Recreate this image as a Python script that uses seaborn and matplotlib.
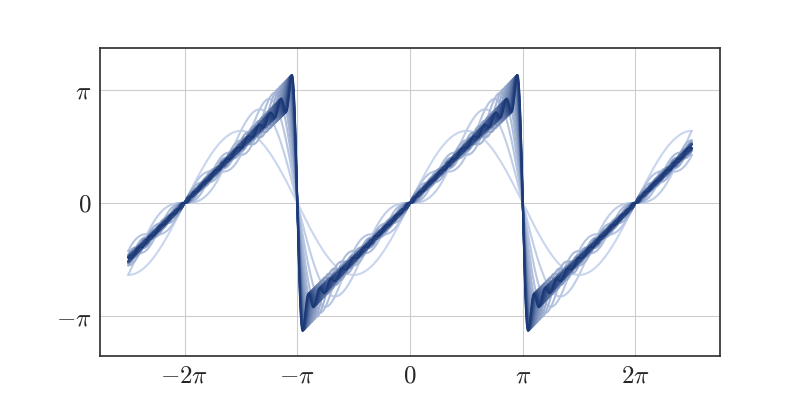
import numpy as np
import pandas as pd
import seaborn as sns
import matplotlib
matplotlib.use("Agg")
import matplotlib.pyplot as plt

# number of harmonics in each partial sum of the sawtooth f(x) = x
n_terms = list(range(1, 21))
x_limits = [-2.5 * np.pi, 2.5 * np.pi]
n_samples = 1500

tick_values_x = [-2 * np.pi, -np.pi, 0, np.pi, 2 * np.pi]
tick_labels_x = [r"$-2\pi$", r"$-\pi$", r"$0$", r"$\pi$", r"$2\pi$"]
tick_values_y = [-np.pi, 0, np.pi]
tick_labels_y = [r"$-\pi$", r"$0$", r"$\pi$"]

light_color = "#c9d6ee"
dark_color = "#1c3a78"

x = np.linspace(x_limits[0], x_limits[1], n_samples)

frames = []
for n in n_terms:
    k = np.arange(1, n + 1)
    coef = 2 * (-1.0) ** (k + 1) / k
    y = (coef[:, None] * np.sin(k[:, None] * x[None, :])).sum(axis=0)
    frames.append(pd.DataFrame({"x": x, "y": y, "N": n}))
df = pd.concat(frames, ignore_index=True)

sns.set_style("whitegrid", {
    "axes.edgecolor": "0.2",
    "grid.color": "0.8",
})
plt.rcParams["mathtext.fontset"] = "cm"
plt.rcParams["font.family"] = ["DejaVu Serif"]

fig, ax = plt.subplots(figsize=(8, 4), dpi=100)

palette = sns.blend_palette([light_color, dark_color], n_colors=len(n_terms))
sns.lineplot(
    data=df, x="x", y="y", hue="N", palette=palette,
    estimator=None, sort=False, legend=False, linewidth=1.5, ax=ax
)

ax.set_xticks(tick_values_x)
ax.set_xticklabels(tick_labels_x, fontsize=18)
ax.set_yticks(tick_values_y)
ax.set_yticklabels(tick_labels_y, fontsize=18)
ax.set_ylim(-4.25, 4.3)
ax.set_xlabel("")
ax.set_ylabel("")
ax.tick_params(length=0, pad=6)
for spine in ax.spines.values():
    spine.set_linewidth(1.25)

fig.savefig("out.png", dpi=100)
